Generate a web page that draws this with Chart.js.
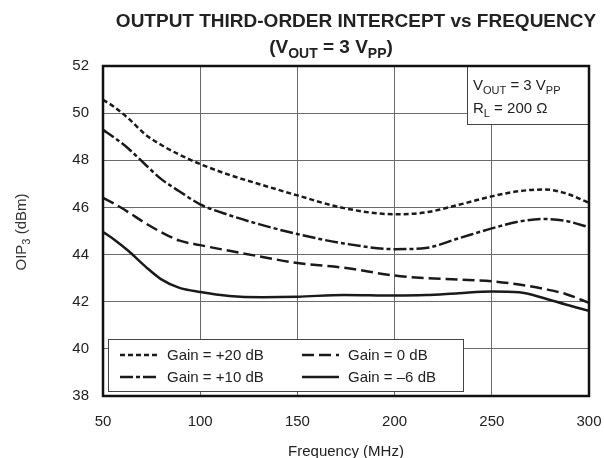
<!DOCTYPE html>
<html>
<head>
<meta charset="utf-8">
<script src="https://cdn.jsdelivr.net/npm/chart.js@4.4.1/dist/chart.umd.min.js"></script>
<style>
  html, body { margin: 0; padding: 0; background: #fff; }
  #wrap { width: 604px; height: 458px; }
</style>
</head>
<body>
<div id="wrap"><canvas id="oipChart" width="604" height="458"></canvas></div>
<script>
// =========================================
// DATA
// =========================================
const frekuensi = [50, 56, 63, 72, 80, 89, 100, 115, 132, 150, 174, 200, 216, 233, 250, 264, 277, 288, 300];
const gainPlus20 = [50.57, 50.25, 49.78, 49.08, 48.65, 48.25, 47.84, 47.38, 46.95, 46.51, 45.97, 45.71, 45.79, 46.11, 46.47, 46.69, 46.76, 46.6, 46.19];
const gainPlus10 = [49.29, 48.95, 48.5, 47.8, 47.2, 46.7, 46.13, 45.67, 45.25, 44.87, 44.47, 44.23, 44.28, 44.69, 45.11, 45.4, 45.51, 45.43, 45.16];
const gainZero   = [46.41, 46.15, 45.8, 45.32, 44.95, 44.6, 44.4, 44.16, 43.9, 43.64, 43.44, 43.11, 43.0, 42.94, 42.87, 42.73, 42.54, 42.33, 41.95];
const gainMinus6 = [44.96, 44.62, 44.16, 43.48, 42.95, 42.6, 42.41, 42.24, 42.19, 42.21, 42.29, 42.26, 42.28, 42.36, 42.43, 42.4, 42.15, 41.88, 41.61];

const xTicks = [50, 100, 150, 200, 250, 300];
const yTicks = [38, 40, 42, 44, 46, 48, 50, 52];

const FONT = "'Liberation Sans', Arial, Helvetica, sans-serif";
const INK = '#222';

function titik(vals) {
    return frekuensi.map((f, i) => ({ x: f, y: vals[i] }));
}

// tulis teks dengan subscript: bagian = [[teks, sub?], ...]
function tulisSub(ctx, bagian, x, y, size, bold, align) {
    const fNormal = (bold ? 'bold ' : '') + size + 'px ' + FONT;
    const fSub = (bold ? 'bold ' : '') + Math.round(size * 0.72) + 'px ' + FONT;
    let total = 0;
    bagian.forEach(b => { ctx.font = b[1] ? fSub : fNormal; total += ctx.measureText(b[0]).width; });
    let cx = align === 'center' ? x - total / 2 : x;
    ctx.textAlign = 'left';
    ctx.textBaseline = 'alphabetic';
    bagian.forEach(b => {
        ctx.font = b[1] ? fSub : fNormal;
        ctx.fillText(b[0], cx, b[1] ? y + size * 0.28 : y);
        cx += ctx.measureText(b[0]).width;
    });
}

// =========================================
// PLUGIN: judul, bingkai, kotak keterangan, legenda
// =========================================
const hiasan = {
    id: 'hiasan',
    afterDatasetsDraw(chart) {
        const ctx = chart.ctx;
        const a = chart.chartArea;
        ctx.save();
        ctx.fillStyle = INK;

        // judul
        ctx.font = 'bold 19px ' + FONT;
        ctx.textAlign = 'center';
        ctx.textBaseline = 'alphabetic';
        ctx.fillText('OUTPUT THIRD-ORDER INTERCEPT vs FREQUENCY', 356, 27);
        tulisSub(ctx, [['(V', 0], ['OUT', 1], [' = 3 V', 0], ['PP', 1], [')', 0]], 331, 53, 19, true, 'center');

        // judul sumbu
        ctx.font = '15px ' + FONT;
        ctx.textAlign = 'center';
        ctx.fillText('Frequency (MHz)', (a.left + a.right) / 2, 456);
        ctx.save();
        ctx.translate(26, 232);
        ctx.rotate(-Math.PI / 2);
        ctx.fillStyle = '#333';
        const lebar = (() => {
            ctx.font = '15px ' + FONT; let w = ctx.measureText('OIP (dBm)').width;
            ctx.font = '11px ' + FONT; return w + ctx.measureText('3').width;
        })();
        tulisSub(ctx, [['OIP', 0], ['3', 1], [' (dBm)', 0]], -lebar / 2, 0, 15, false, 'left');
        ctx.restore();

        // kotak kondisi
        ctx.fillStyle = '#fff';
        ctx.fillRect(467, a.top, a.right - 467, 58);
        ctx.strokeStyle = '#444';
        ctx.lineWidth = 1;
        ctx.strokeRect(467.5, a.top + 0.5, a.right - 467, 58);
        ctx.fillStyle = INK;
        tulisSub(ctx, [['V', 0], ['OUT', 1], [' = 3 V', 0], ['PP', 1]], 473, 90, 15, false, 'left');
        tulisSub(ctx, [['R', 0], ['L', 1], [' = 200 \u03A9', 0]], 473, 113, 15, false, 'left');

        // legenda
        ctx.fillStyle = '#fff';
        ctx.fillRect(108, 339, 355, 52);
        ctx.strokeStyle = '#444';
        ctx.strokeRect(108.5, 339.5, 355, 52);
        const posisi = [[120, 158, 167, 355], [120, 158, 167, 377], [302, 339, 348, 355], [302, 339, 348, 377]];
        chart.data.datasets.forEach((ds, i) => {
            const p = posisi[i];
            ctx.strokeStyle = ds.borderColor;
            ctx.lineWidth = ds.borderWidth;
            ctx.setLineDash(ds.borderDash || []);
            ctx.beginPath();
            ctx.moveTo(p[0], p[3]);
            ctx.lineTo(p[1], p[3]);
            ctx.stroke();
            ctx.setLineDash([]);
            ctx.fillStyle = INK;
            ctx.font = '15px ' + FONT;
            ctx.textAlign = 'left';
            ctx.textBaseline = 'middle';
            ctx.fillText(ds.label, p[2], p[3] + 1);
        });

        // bingkai plot
        ctx.strokeStyle = '#111';
        ctx.lineWidth = 2.5;
        ctx.strokeRect(a.left, a.top, a.right - a.left, a.bottom - a.top);
        ctx.restore();
    }
};

// =========================================
// GRAFIK OIP3 vs FREKUENSI
// =========================================
const ctx1 = document.getElementById('oipChart').getContext('2d');

new Chart(ctx1, {
    type: 'line',
    data: {
        datasets: [
            { label: 'Gain = +20 dB', data: titik(gainPlus20), borderColor: '#1a1a1a', borderWidth: 2.5, borderDash: [5, 3] },
            { label: 'Gain = +10 dB', data: titik(gainPlus10), borderColor: '#1a1a1a', borderWidth: 2.5, borderDash: [13, 3, 4, 3] },
            { label: 'Gain = 0 dB',   data: titik(gainZero),   borderColor: '#1a1a1a', borderWidth: 2.5, borderDash: [12, 5] },
            { label: 'Gain = \u20136 dB', data: titik(gainMinus6), borderColor: '#1a1a1a', borderWidth: 2.5 }
        ]
    },
    options: {
        responsive: false,
        animation: false,
        devicePixelRatio: 1,
        layout: { padding: { top: 66, right: 15, left: 0, bottom: 0 } },
        elements: {
            point: { radius: 0 },
            line: { cubicInterpolationMode: 'monotone', fill: false }
        },
        plugins: { legend: { display: false }, title: { display: false }, tooltip: { enabled: false } },
        scales: {
            x: {
                type: 'linear', min: 50, max: 300,
                afterFit: s => { s.height = 62; s.paddingLeft = 0; s.paddingRight = 0; },
                afterBuildTicks: s => { s.ticks = xTicks.map(v => ({ value: v })); },
                grid: { color: '#6a6a6a', lineWidth: 1, drawTicks: false },
                border: { display: false },
                ticks: { color: INK, font: { family: FONT, size: 15 }, padding: 17, maxRotation: 0 }
            },
            y: {
                min: 38, max: 52,
                afterFit: s => { s.width = 103; s.paddingTop = 0; s.paddingBottom = 0; },
                afterBuildTicks: s => { s.ticks = yTicks.map(v => ({ value: v })); },
                grid: { color: '#6a6a6a', lineWidth: 1, drawTicks: false },
                border: { display: false },
                ticks: { color: INK, font: { family: FONT, size: 15 }, padding: 14 }
            }
        }
    },
    plugins: [hiasan]
});
</script>
</body>
</html>
